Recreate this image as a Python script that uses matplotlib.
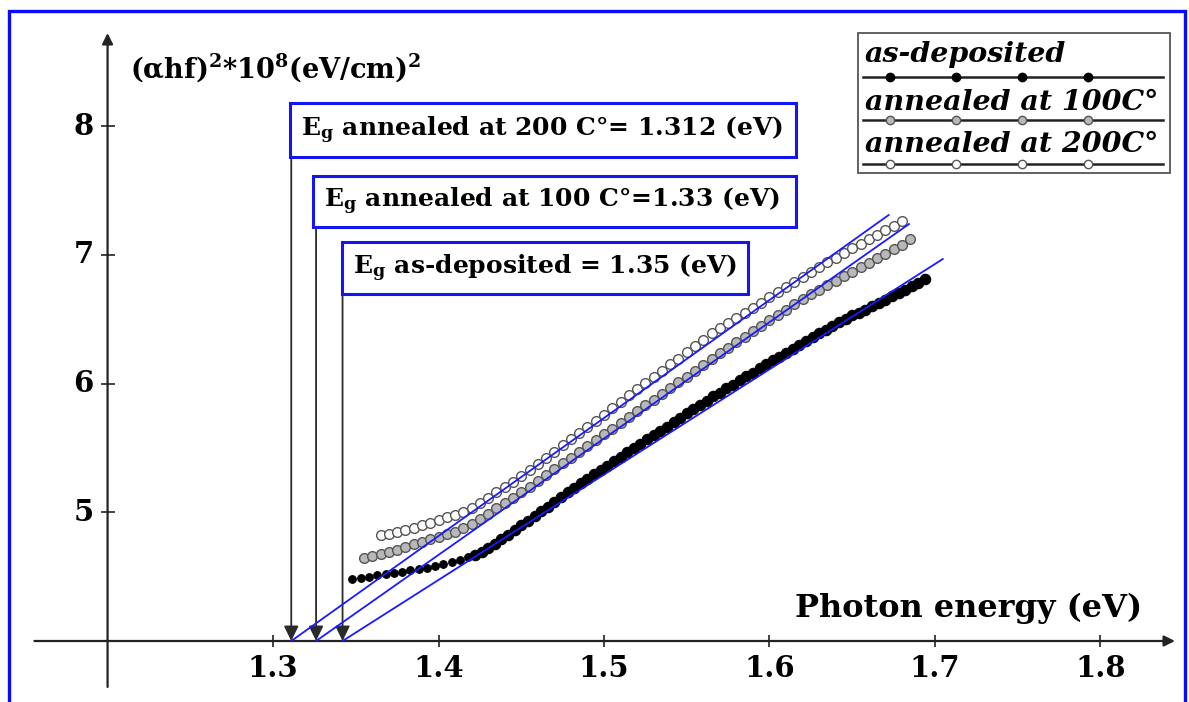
import matplotlib
matplotlib.use("Agg")
import matplotlib.pyplot as plt
from matplotlib.patches import Rectangle

plt.rcParams['font.family'] = ['DejaVu Serif']
plt.rcParams['font.weight'] = 'bold'
plt.rcParams['mathtext.fontset'] = 'custom'
plt.rcParams['mathtext.rm'] = 'DejaVu Serif:bold'
plt.rcParams['mathtext.it'] = 'DejaVu Serif:bold'
plt.rcParams['mathtext.bf'] = 'DejaVu Serif:bold'

# as-deposited (black dots), first 15 points are the flat part below the knee
x_dep = [1.348, 1.353, 1.358, 1.363, 1.368, 1.373, 1.378, 1.383, 1.388, 1.393,
         1.398, 1.403, 1.408, 1.413, 1.418,
         1.422, 1.426, 1.430, 1.434, 1.438, 1.442, 1.446, 1.450, 1.454, 1.458,
         1.462, 1.466, 1.470, 1.474, 1.478, 1.482, 1.486, 1.490, 1.494, 1.498,
         1.502, 1.506, 1.510, 1.514, 1.518, 1.522, 1.526, 1.530, 1.534, 1.538,
         1.542, 1.546, 1.550, 1.554, 1.558, 1.562, 1.566, 1.570, 1.574, 1.578,
         1.582, 1.586, 1.590, 1.594, 1.598, 1.602, 1.606, 1.610, 1.614, 1.618,
         1.622, 1.626, 1.630, 1.634, 1.638, 1.642, 1.646, 1.650, 1.654, 1.658,
         1.662, 1.666, 1.670, 1.674, 1.678, 1.682, 1.686, 1.690, 1.694]
y_dep = [4.48, 4.49, 4.50, 4.51, 4.52, 4.53, 4.54, 4.55, 4.56, 4.57,
         4.585, 4.60, 4.615, 4.63, 4.65,
         4.67, 4.695, 4.72, 4.755, 4.79, 4.825, 4.86, 4.90, 4.935, 4.975,
         5.01, 5.045, 5.08, 5.12, 5.16, 5.19, 5.23, 5.26, 5.30, 5.33,
         5.36, 5.40, 5.43, 5.465, 5.50, 5.53, 5.57, 5.60, 5.635, 5.665,
         5.705, 5.735, 5.77, 5.80, 5.835, 5.865, 5.90, 5.93, 5.965, 5.99,
         6.025, 6.06, 6.085, 6.12, 6.15, 6.18, 6.21, 6.24, 6.27, 6.30,
         6.33, 6.36, 6.39, 6.42, 6.445, 6.475, 6.50, 6.53, 6.55, 6.575,
         6.60, 6.63, 6.65, 6.68, 6.705, 6.73, 6.755, 6.785, 6.81]

# annealed at 100 C (gray circles)
x_100 = [1.355, 1.360, 1.365, 1.370, 1.375, 1.380, 1.385, 1.390, 1.395, 1.400,
         1.405, 1.410, 1.415, 1.420, 1.425, 1.430, 1.435, 1.440, 1.445, 1.450,
         1.455, 1.460, 1.465, 1.470, 1.475, 1.480, 1.485, 1.490, 1.495, 1.500,
         1.505, 1.510, 1.515, 1.520, 1.525, 1.530, 1.535, 1.540, 1.545, 1.550,
         1.555, 1.560, 1.565, 1.570, 1.575, 1.580, 1.585, 1.590, 1.595, 1.600,
         1.605, 1.610, 1.615, 1.620, 1.625, 1.630, 1.635, 1.640, 1.645, 1.650,
         1.655, 1.660, 1.665, 1.670, 1.675, 1.680, 1.685]
y_100 = [4.645, 4.66, 4.675, 4.69, 4.71, 4.73, 4.75, 4.77, 4.79, 4.81,
         4.83, 4.85, 4.875, 4.91, 4.95, 4.99, 5.03, 5.075, 5.115, 5.16,
         5.20, 5.245, 5.29, 5.335, 5.38, 5.425, 5.47, 5.515, 5.56, 5.605,
         5.65, 5.695, 5.74, 5.785, 5.83, 5.875, 5.92, 5.965, 6.01, 6.055,
         6.10, 6.145, 6.19, 6.235, 6.28, 6.32, 6.365, 6.41, 6.45, 6.495,
         6.535, 6.575, 6.615, 6.655, 6.695, 6.73, 6.765, 6.80, 6.835, 6.87,
         6.905, 6.94, 6.975, 7.01, 7.045, 7.08, 7.12]

# annealed at 200 C (white circles)
x_200 = [1.365, 1.370, 1.375, 1.380, 1.385, 1.390, 1.395, 1.400, 1.405, 1.410,
         1.415, 1.420, 1.425, 1.430, 1.435, 1.440, 1.445, 1.450, 1.455, 1.460,
         1.465, 1.470, 1.475, 1.480, 1.485, 1.490, 1.495, 1.500, 1.505, 1.510,
         1.515, 1.520, 1.525, 1.530, 1.535, 1.540, 1.545, 1.550, 1.555, 1.560,
         1.565, 1.570, 1.575, 1.580, 1.585, 1.590, 1.595, 1.600, 1.605, 1.610,
         1.615, 1.620, 1.625, 1.630, 1.635, 1.640, 1.645, 1.650, 1.655, 1.660,
         1.665, 1.670, 1.675, 1.680]
y_200 = [4.82, 4.835, 4.85, 4.865, 4.88, 4.90, 4.92, 4.94, 4.96, 4.98,
         5.00, 5.035, 5.075, 5.115, 5.155, 5.195, 5.235, 5.28, 5.325, 5.375,
         5.42, 5.47, 5.52, 5.57, 5.615, 5.665, 5.71, 5.76, 5.81, 5.86,
         5.91, 5.96, 6.005, 6.055, 6.10, 6.15, 6.195, 6.245, 6.29, 6.34,
         6.39, 6.43, 6.47, 6.51, 6.55, 6.59, 6.63, 6.67, 6.71, 6.75,
         6.79, 6.83, 6.87, 6.91, 6.945, 6.98, 7.015, 7.05, 7.085, 7.12,
         7.155, 7.19, 7.225, 7.26]

# linear fits: intercept on the energy axis and upper end of the drawn line
fit_x0 = [1.342, 1.326, 1.311]
fit_x1 = [1.7047, 1.6843, 1.672]
fit_y1 = [6.968, 7.24, 7.31]

x_ticks = [1.3, 1.4, 1.5, 1.6, 1.7, 1.8]
y_ticks = [5, 6, 7, 8]

box_texts = [r"$\mathrm{E_g}$ annealed at 200 C°= 1.312 (eV)",
             r"$\mathrm{E_g}$ annealed at 100 C°=1.33 (eV)",
             r"$\mathrm{E_g}$ as-deposited = 1.35 (eV)"]
legend_labels = ["as-deposited", "annealed at 100C°", "annealed at 200C°"]


fig = plt.figure(figsize=(11.89, 7.02), dpi=100)
ax = fig.add_axes([0, 0, 1, 1])
ax.set_xlim(1.135, 1.8535)
ax.set_ylim(3.526, 8.981)
ax.axis('off')

# blue frame around the whole picture
fig.patches.append(Rectangle((0.0076, -0.05), 0.989, 1.035, transform=fig.transFigure,
                             fill=False, ec='#0a0aff', lw=2.4))

# axes with arrows
ax.annotate('', xy=(1.845, 4), xytext=(1.1558, 4),
            arrowprops=dict(arrowstyle='-|>', color='#222222', lw=1.6, mutation_scale=16,
                            shrinkA=0, shrinkB=0))
ax.annotate('', xy=(1.2, 8.724), xytext=(1.2, 3.643),
            arrowprops=dict(arrowstyle='-|>', color='#222222', lw=1.6, mutation_scale=16,
                            shrinkA=0, shrinkB=0))
ax.plot(x_ticks, [4] * len(x_ticks), ls='none', marker='|', ms=8, mew=1.2, color='#222222')
ax.plot([1.2] * len(y_ticks), y_ticks, ls='none', marker='_', ms=10, mew=1.2, color='#222222')
for t in x_ticks:
    ax.text(t, 3.79, f"{t:.1f}", ha='center', va='center', fontsize=21, fontweight='bold')
for t in y_ticks:
    ax.text(1.1918, t, str(t), ha='right', va='center', fontsize=21, fontweight='bold')

ax.text(1.6154, 4.186, "Photon energy (eV)", ha='left', va='baseline',
        fontsize=23, fontweight='bold')
ax.text(1.2136, 8.375, r"(αhf)$^{2}$*10$^{8}$(eV/cm)$^{2}$", ha='left', va='baseline',
        fontsize=19.5, fontweight='bold')

# data points
ax.plot(x_dep[:15], y_dep[:15], ls='none', marker='o', ms=5.5, mfc='black', mec='black',
        mew=0.8, zorder=3)
ax.plot(x_dep[15:], y_dep[15:], ls='none', marker='o', ms=7.5, mfc='black', mec='black',
        mew=0.8, zorder=3)
ax.plot(x_100, y_100, ls='none', marker='o', ms=7, mfc='#b8b8b8', mec='#555555', mew=1.0, zorder=3)
ax.plot(x_200, y_200, ls='none', marker='o', ms=7, mfc='white', mec='#555555', mew=1.0, zorder=3)

# fitted straight lines
for x0, x1, y1 in zip(fit_x0, fit_x1, fit_y1):
    ax.plot([x0, x1], [4, y1], color='#1a1aff', lw=1.3, zorder=4)

# E_g boxes with arrows down to the intercepts
box_x0 = [1.3103, 1.3242, 1.3417]
box_x1 = [1.616, 1.616, 1.587]
box_top = [8.180, 7.613, 7.100]
box_bot = [7.761, 7.217, 6.696]
eg_arrow = [fit_x0[2], fit_x0[1], fit_x0[0]]
for i in range(3):
    ax.add_patch(Rectangle((box_x0[i], box_bot[i]), box_x1[i] - box_x0[i],
                           box_top[i] - box_bot[i], fc='white', ec='#1515f0', lw=2.2, zorder=5))
    ax.text(box_x0[i] + 0.0065, (box_top[i] + box_bot[i]) / 2, box_texts[i],
            ha='left', va='center', fontsize=18, fontweight='bold', zorder=6)
    ax.annotate('', xy=(eg_arrow[i], 4), xytext=(eg_arrow[i], box_bot[i]),
                arrowprops=dict(arrowstyle='-|>,head_length=0.45,head_width=0.22',
                                color='#2a2a2a', lw=1.3, mutation_scale=20,
                                shrinkA=0, shrinkB=0), zorder=2)

# hand-made legend
ta = ax.transAxes
ax.add_patch(Rectangle((0.7216, 0.7536), 0.2624, 0.1994, transform=ta,
                       fill=False, ec='#555555', lw=1.3))
leg_text_y = [0.9117, 0.8433, 0.7835]
leg_line_y = [0.8903, 0.829, 0.7664]
leg_mark_x = [0.7485, 0.804, 0.8595, 0.915]
leg_style = [dict(mfc='black', mec='black', ms=6),
             dict(mfc='#b8b8b8', mec='#555555', ms=6),
             dict(mfc='white', mec='#555555', ms=6)]
for i in range(3):
    ax.text(0.7275, leg_text_y[i], legend_labels[i], transform=ta, ha='left', va='baseline',
            fontsize=20.5, fontweight='bold', fontstyle='italic')
    ax.plot([0.7258, 0.9781], [leg_line_y[i]] * 2, transform=ta, color='#222222', lw=1.8)
    ax.plot(leg_mark_x, [leg_line_y[i]] * 4, transform=ta, ls='none', marker='o',
            mew=1.0, **leg_style[i])

fig.savefig("out.png", dpi=100)
